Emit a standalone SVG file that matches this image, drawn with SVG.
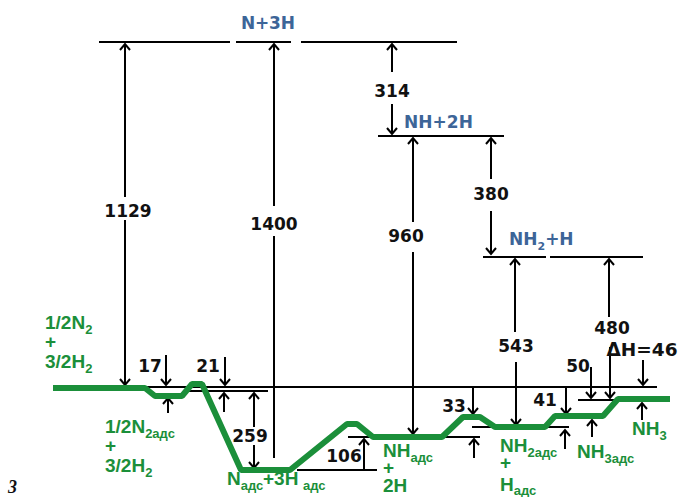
<svg xmlns="http://www.w3.org/2000/svg" width="692" height="497" viewBox="0 0 692 497">
<defs>
<marker id="ah" viewBox="-8 -7 10 14" refX="0" refY="0" markerWidth="10" markerHeight="14" orient="auto-start-reverse" markerUnits="userSpaceOnUse">
<path d="M-6,-5 L0,0 L-6,5" fill="none" stroke="#000" stroke-width="2"/>
</marker>
<style>
.ln{stroke:#000;stroke-width:2;fill:none}
.ar{stroke:#000;stroke-width:2;fill:none;marker-end:url(#ah)}
.num{font-family:"DejaVu Sans",sans-serif;font-weight:bold;font-size:17px;fill:#111;text-anchor:middle}
.blue{font-family:"DejaVu Sans",sans-serif;font-weight:bold;font-size:17px;fill:#3d6598}
.grn{font-family:"Liberation Sans",Arial,sans-serif;font-weight:bold;font-size:19px;fill:#1b8f3a}
.sub{font-size:13px}
.bsub{font-size:11px}
</style>
</defs>
<rect width="692" height="497" fill="#fff"/>

<g id="connectors">
<path class="ln" d="M99,42H230M236,42H291M301,42H457"/>
<path class="ln" d="M378,136H504"/>
<path class="ln" d="M483,257H546M550,257H643"/>
<path class="ln" d="M145,387H657"/>
<path class="ln" d="M183,391H268"/>
<path class="ln" d="M297,470H377"/>
<path class="ln" d="M348,437H373"/>
<path class="ln" d="M443,437H480"/>
<path class="ln" d="M472,427H492"/>
<path class="ln" d="M548,427H569"/>
<path class="ln" d="M578,400H615"/>
<path class="ar" d="M125,197V44"/>
<path class="ar" d="M125,220V385"/>
<path class="ar" d="M274,206V44"/>
<path class="ln" d="M274,236V458"/>
<path class="ar" d="M392,72V44"/>
<path class="ar" d="M392,104V134"/>
<path class="ar" d="M413,222V138"/>
<path class="ar" d="M413,252V434"/>
<path class="ar" d="M491,179V138"/>
<path class="ar" d="M491,211V254"/>
<path class="ar" d="M515,332V259"/>
<path class="ar" d="M516,362V425"/>
<path class="ar" d="M609,317V259"/>
<path class="ar" d="M610,347V398"/>
<path class="ar" d="M166,355V385"/>
<path class="ar" d="M168,413V398"/>
<path class="ar" d="M225,357V385"/>
<path class="ar" d="M224,412V393"/>
<path class="ar" d="M254,427V393"/>
<path class="ar" d="M254,445V468"/>
<path class="ar" d="M364,470V439"/>
<path class="ar" d="M473,387V414"/>
<path class="ar" d="M474,458V439"/>
<path class="ar" d="M566,387V414"/>
<path class="ar" d="M565,449V430"/>
<path class="ar" d="M591,367V398"/>
<path class="ar" d="M592,437V420"/>
<path class="ar" d="M643,360V385"/>
<path class="ar" d="M642,420V403"/>
</g>

<g id="reaction-path">
<path d="M53,388 L145,388 L155,396 L182,396 L192,384 L202,384 L241,470 L290,470 L347,424 L357,424 L373,437 L442,437 L463,417 L480,417 L495,427 L545,427 L555,416 L603,416 L618,399 L670,399" fill="none" stroke="#1b8f3a" stroke-width="6" stroke-linejoin="bevel"/>
</g>

<g id="values">
<text class="num" x="128" y="217">1129</text>
<text class="num" x="274" y="230">1400</text>
<text class="num" x="392" y="97">314</text>
<text class="num" x="406" y="242">960</text>
<text class="num" x="491" y="200">380</text>
<text class="num" x="516" y="352">543</text>
<text class="num" x="612" y="334">480</text>
<text class="num" x="642" y="356" style="font-size:18.5px">ΔH=46</text>
</g>
<g id="values-small">
<text class="num" x="150" y="372">17</text>
<text class="num" x="208" y="372">21</text>
<text class="num" x="250" y="442">259</text>
<text class="num" x="344" y="462">106</text>
<text class="num" x="454" y="412">33</text>
<text class="num" x="545" y="406">41</text>
<text class="num" x="578" y="372">50</text>
</g>

<g id="level-N3H"><text class="blue" x="241" y="29" textLength="54">N+3H</text></g>
<g id="level-NH2H"><text class="blue" x="404" y="128" textLength="69">NH+2H</text></g>
<g id="level-NH2H-1"><text class="blue" x="509" y="245">NH<tspan class="bsub" dy="5">2</tspan><tspan dy="-5">+H</tspan></text></g>

<g id="state-reactants">
<text class="grn" x="45" y="329">1/2N<tspan class="sub" dy="5">2</tspan><tspan x="45" dy="14">+</tspan><tspan x="45" dy="20">3/2H</tspan><tspan class="sub" dy="5">2</tspan></text>
</g>
<g id="state-N2ads">
<text class="grn" x="105" y="433">1/2N<tspan class="sub" dy="5">2адс</tspan><tspan x="105" dy="14">+</tspan><tspan x="105" dy="20">3/2H</tspan><tspan class="sub" dy="5">2</tspan></text>
</g>
<g id="state-Nads">
<text class="grn" x="227" y="485">N<tspan class="sub" dy="5">адс</tspan><tspan x="263" dy="-5">+3H</tspan><tspan class="sub" x="303" dy="5">адс</tspan></text>
</g>
<g id="state-NHads">
<text class="grn" x="383" y="457">NH<tspan class="sub" dy="5">адс</tspan><tspan x="383" dy="12">+</tspan><tspan x="383" dy="18">2H</tspan></text>
</g>
<g id="state-NH2ads">
<text class="grn" x="500" y="452">NH<tspan class="sub" dy="5">2адс</tspan><tspan x="500" dy="12">+</tspan><tspan x="500" dy="22">H</tspan><tspan class="sub" dy="4">адс</tspan></text>
</g>
<g id="state-NH3ads">
<text class="grn" x="577" y="458">NH<tspan class="sub" dy="5">3адс</tspan></text>
</g>
<g id="state-NH3">
<text class="grn" x="632" y="435">NH<tspan class="sub" dy="5">3</tspan></text>
</g>
<text x="8" y="493" font-family="Liberation Serif,serif" font-style="italic" font-weight="bold" font-size="18" fill="#111">3</text>
</svg>
